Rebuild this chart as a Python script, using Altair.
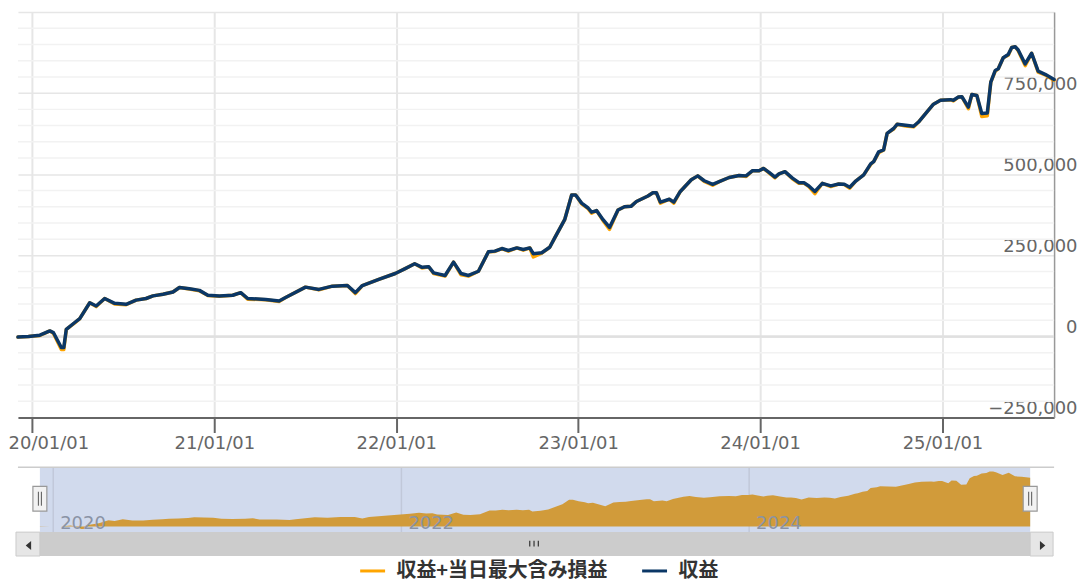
import altair as alt
import pandas as pd

S_WORST = "収益+当日最大含み損益"
S_PROFIT = "収益"
FONT = "DejaVu Sans"

dates = [
    "2019-12-04", "2019-12-25", "2020-01-17", "2020-02-06", "2020-02-13", "2020-02-29",
    "2020-03-05", "2020-03-10", "2020-03-27", "2020-04-06", "2020-04-26", "2020-05-09",
    "2020-05-26", "2020-06-15", "2020-07-08", "2020-07-28", "2020-08-17", "2020-08-31",
    "2020-09-20", "2020-10-10", "2020-10-23", "2020-11-12", "2020-12-02", "2020-12-19",
    "2021-01-11", "2021-02-07", "2021-02-23", "2021-03-09", "2021-04-14", "2021-05-11",
    "2021-05-24", "2021-07-03", "2021-07-30", "2021-08-26", "2021-09-25", "2021-10-11",
    "2021-10-25", "2021-11-27", "2021-12-30", "2022-01-19", "2022-02-07", "2022-02-22",
    "2022-03-07", "2022-03-17", "2022-04-09", "2022-04-26", "2022-05-11", "2022-05-26",
    "2022-06-15", "2022-07-05", "2022-07-18", "2022-08-01", "2022-08-14", "2022-08-31",
    "2022-09-13", "2022-09-26", "2022-10-03", "2022-10-20", "2022-11-05", "2022-11-15",
    "2022-12-05", "2022-12-19", "2022-12-27", "2023-01-08", "2023-01-21", "2023-01-28",
    "2023-02-07", "2023-02-20", "2023-03-05", "2023-03-22", "2023-04-04", "2023-04-17",
    "2023-04-28", "2023-05-21", "2023-05-31", "2023-06-07", "2023-06-15", "2023-07-03",
    "2023-07-12", "2023-07-25", "2023-08-16", "2023-08-29", "2023-09-11", "2023-09-28",
    "2023-10-11", "2023-10-31", "2023-11-20", "2023-12-04", "2023-12-17", "2023-12-30",
    "2024-01-08", "2024-01-19", "2024-01-31", "2024-02-08", "2024-02-20", "2024-03-06",
    "2024-03-19", "2024-03-29", "2024-04-08", "2024-04-20", "2024-05-05", "2024-05-22",
    "2024-06-07", "2024-06-18", "2024-06-29", "2024-07-11", "2024-07-27", "2024-08-10",
    "2024-08-16", "2024-08-26", "2024-09-05", "2024-09-12", "2024-09-25", "2024-10-02",
    "2024-10-19", "2024-11-04", "2024-11-14", "2024-12-01", "2024-12-14", "2024-12-28",
    "2025-01-17", "2025-01-23", "2025-02-02", "2025-02-09", "2025-02-22", "2025-03-01",
    "2025-03-11", "2025-03-21", "2025-04-01", "2025-04-08", "2025-04-17", "2025-04-23",
    "2025-05-03", "2025-05-13", "2025-05-20", "2025-05-27", "2025-06-02", "2025-06-16",
    "2025-06-29", "2025-07-12", "2025-07-26", "2025-08-13",
]

profit = [
    -2000, 0, 4000, 17000, 12000, -34000,
    -34000, 22000, 43000, 55000, 104000, 94000,
    117000, 102000, 99000, 112000, 117000, 125000,
    130000, 137000, 151000, 147000, 142000, 127000,
    125000, 127000, 135000, 117000, 114000, 109000,
    120000, 152000, 145000, 155000, 157000, 135000,
    157000, 176000, 194000, 209000, 224000, 213000,
    215000, 196000, 188000, 229000, 194000, 188000,
    201000, 261000, 263000, 271000, 265000, 273000,
    268000, 273000, 255000, 258000, 275000, 304000,
    360000, 436000, 436000, 411000, 396000, 383000,
    388000, 360000, 336000, 390000, 400000, 401000,
    416000, 433000, 443000, 443000, 414000, 423000,
    414000, 447000, 483000, 495000, 480000, 469000,
    477000, 490000, 496000, 495000, 511000, 511000,
    518000, 506000, 491000, 501000, 508000, 488000,
    474000, 474000, 464000, 447000, 472000, 464000,
    470000, 469000, 460000, 479000, 498000, 532000,
    539000, 569000, 575000, 626000, 641000, 654000,
    651000, 648000, 661000, 692000, 716000, 728000,
    730000, 728000, 738000, 739000, 707000, 746000,
    743000, 687000, 689000, 784000, 820000, 825000,
    859000, 869000, 891000, 893000, 883000, 840000,
    873000, 818000, 808000, 792000,
]

worst = [
    -2000, 0, 3000, 17000, 10000, -40000,
    -40000, 22000, 42000, 55000, 104000, 92000,
    117000, 100000, 98000, 112000, 117000, 125000,
    130000, 137000, 151000, 146000, 141000, 126000,
    124000, 127000, 135000, 115000, 113000, 108000,
    120000, 152000, 144000, 155000, 157000, 132000,
    157000, 176000, 194000, 209000, 224000, 211000,
    215000, 194000, 186000, 229000, 190000, 186000,
    201000, 261000, 262000, 271000, 263000, 273000,
    266000, 273000, 245000, 257000, 275000, 304000,
    360000, 436000, 436000, 409000, 394000, 380000,
    388000, 357000, 330000, 390000, 400000, 401000,
    416000, 433000, 443000, 443000, 411000, 423000,
    411000, 447000, 483000, 495000, 478000, 466000,
    477000, 490000, 496000, 493000, 511000, 511000,
    518000, 504000, 489000, 501000, 508000, 486000,
    472000, 473000, 462000, 440000, 472000, 462000,
    470000, 468000, 457000, 479000, 498000, 530000,
    539000, 566000, 575000, 626000, 639000, 654000,
    649000, 646000, 661000, 692000, 716000, 728000,
    730000, 726000, 738000, 739000, 702000, 746000,
    743000, 678000, 680000, 784000, 818000, 825000,
    859000, 867000, 891000, 893000, 881000, 835000,
    873000, 815000, 806000, 790000,
]

tick_years = [2020, 2021, 2022, 2023, 2024, 2025]
nav_years = ["2020-01-01", "2022-01-01", "2024-01-01"]
nav_year_labels = ["2020", "2022", "2024"]
y_major = [-250000, 0, 250000, 500000, 750000, 1000000]
y_minor = [-200000, -150000, -100000, -50000, 50000, 100000, 150000, 200000,
           300000, 350000, 400000, 450000, 550000, 600000, 650000, 700000,
           800000, 850000, 900000, 950000]

wide = pd.DataFrame({"date": dates, S_PROFIT: profit, S_WORST: worst})
long = wide.melt("date", var_name="series", value_name="value")
one = pd.DataFrame({"k": [0]})

x_dom = [alt.DateTime(year=2019, month=12, date=4, utc=True),
         alt.DateTime(year=2025, month=8, date=13, utc=True)]

# ---------------- main chart ----------------
xs_main = alt.Scale(type="utc", domain=x_dom)
ys_main = alt.Scale(domain=[-250000, 1000000], nice=False, zero=False)

xaxis = alt.Axis(
    values=[alt.DateTime(year=y, month=1, date=1, utc=True) for y in tick_years],
    format="%y/%m/%d", title=None, labelFont=FONT, labelFontSize=18, labelColor="#666666",
    tickSize=15, tickColor="#666666", tickWidth=2, domainColor="#666666", domainWidth=2,
    labelBaseline="alphabetic", labelPadding=16, labelOverlap=False, labelFlush=False,
    labelOffset={"condition": {"test": "utcyear(datum.value) == 2020", "value": 16.5}, "value": 0},
    grid=True, gridColor="#e6e6e6", gridWidth=2,
)
yaxis = alt.Axis(
    orient="right", values=y_major, format=",d", title=None,
    labelExpr="datum.value >= 1000000 ? '' : datum.label",
    labelFont=FONT, labelFontSize=18, labelColor="#666666", labelAlign="right",
    labelBaseline="alphabetic", labelOffset=-4, labelPadding=23, ticks=False,
    domainColor="#999999", domainWidth=1.5, grid=True, gridColor="#e6e6e6", gridWidth=1.5,
)

cscale = alt.Scale(domain=[S_WORST, S_PROFIT], range=["#FFA500", "#0b3766"])
leg = alt.Legend(
    orient="none", legendX=342, legendY=547, direction="horizontal", title=None,
    symbolType="stroke", symbolSize=625, symbolStrokeWidth=3,
    labelFont="Noto Sans CJK JP", labelFontSize=20, labelFontWeight="bold",
    labelColor="#333333", labelOffset=10, columnPadding=28, padding=0, labelLimit=400,
)

minor = alt.Chart(pd.DataFrame({"v": y_minor})).mark_rule(
    color="#f2f2f2", strokeWidth=1.5
).encode(y=alt.Y("v:Q", scale=ys_main, axis=yaxis))

zero = alt.Chart(pd.DataFrame({"v": [0]})).mark_rule(
    color="#e0e0e0", strokeWidth=2.5
).encode(y=alt.Y("v:Q", scale=ys_main, axis=yaxis))


def series_line(name):
    return alt.Chart(long).transform_filter(alt.datum.series == name).mark_line(
        strokeWidth=3.5, strokeJoin="round", strokeCap="round"
    ).encode(
        x=alt.X("date:T", scale=xs_main, axis=xaxis),
        y=alt.Y("value:Q", scale=ys_main, axis=yaxis),
        color=alt.Color("series:N", scale=cscale, legend=leg),
    )


main = alt.layer(minor, zero, series_line(S_WORST), series_line(S_PROFIT)).properties(
    width=1040, height=407
)

# ---------------- navigator + scrollbar ----------------
xs_nav = alt.Scale(type="utc", domain=x_dom, range=[22, 1016])
ys_nav = alt.Scale(domain=[-90000, 960000], range=[65, 0], nice=False, zero=False)

ends = pd.DataFrame({"s": [dates[0]], "e": [dates[-1]]})
end_pts = pd.DataFrame({"d": [dates[0], dates[-1]]})
nav_lab = pd.DataFrame({"d": nav_years, "t": nav_year_labels})

nav_bg = alt.Chart(ends).mark_rect(color="#d1daed").encode(
    x=alt.X("s:T", scale=xs_nav, axis=None), x2="e:T", y=alt.value(0), y2=alt.value(65)
)
nav_grid = alt.Chart(nav_lab).mark_rule(color="#c1c8d9", strokeWidth=1.5).encode(
    x=alt.X("d:T", scale=xs_nav, axis=None), y=alt.value(0), y2=alt.value(65)
)
nav_area = alt.Chart(wide).mark_area(color="#d19b3a", opacity=1).encode(
    x=alt.X("date:T", scale=xs_nav, axis=None),
    y=alt.Y(f"{S_WORST}:Q", scale=ys_nav, axis=None),
    y2=alt.value(65),
)
nav_text = alt.Chart(nav_lab).mark_text(
    align="left", baseline="alphabetic", dx=7, font=FONT, fontSize=18, color="#8a93a5"
).encode(x=alt.X("d:T", scale=xs_nav, axis=None), y=alt.value(62), text="t:N")
nav_outline = alt.Chart(one).mark_rule(color="#cccccc", strokeWidth=1.5).encode(
    x=alt.value(0), x2=alt.value(1040), y=alt.value(0)
)
track = alt.Chart(one).mark_rect(fill="#cccccc").encode(
    x=alt.value(-2), x2=alt.value(1039), y=alt.value(65), y2=alt.value(89)
)
btn_l = alt.Chart(one).mark_rect(fill="#e6e6e6", stroke="#cccccc", strokeWidth=1).encode(
    x=alt.value(-2), x2=alt.value(22), y=alt.value(65), y2=alt.value(89)
)
btn_r = alt.Chart(one).mark_rect(fill="#e6e6e6", stroke="#cccccc", strokeWidth=1).encode(
    x=alt.value(1016), x2=alt.value(1039), y=alt.value(65), y2=alt.value(89)
)
arr_l = alt.Chart(one).mark_point(
    shape="M0.6,-1L-0.6,0L0.6,1Z", size=81, filled=True, fill="#333333", opacity=1, strokeWidth=0
).encode(x=alt.value(10.5), y=alt.value(78.5))
arr_r = alt.Chart(one).mark_point(
    shape="M-0.6,-1L0.6,0L-0.6,1Z", size=81, filled=True, fill="#333333", opacity=1, strokeWidth=0
).encode(x=alt.value(1028.5), y=alt.value(78.5))
grip = alt.Chart(one).mark_point(
    shape="M-1,-0.66V0.66M0,-0.66V0.66M1,-0.66V0.66", size=74, filled=False,
    stroke="#333333", strokeWidth=1.2, opacity=1
).encode(x=alt.value(518), y=alt.value(76.5))
handles = alt.Chart(end_pts).mark_point(
    shape="M-0.56,-1H0.56V1H-0.56Z", size=625, filled=True, fill="#f2f2f2",
    stroke="#999999", strokeWidth=1.2, opacity=1
).encode(x=alt.X("d:T", scale=xs_nav, axis=None), y=alt.value(31.5))
handle_lines = alt.Chart(end_pts).mark_point(
    shape="M-0.12,-0.56V0.56M0.12,-0.56V0.56", size=625, filled=False,
    stroke="#555555", strokeWidth=1, opacity=1
).encode(x=alt.X("d:T", scale=xs_nav, axis=None), y=alt.value(31.5))

bottom = alt.layer(
    nav_bg, nav_grid, nav_area, nav_text, nav_outline, track, btn_l, btn_r,
    arr_l, arr_r, grip, handles, handle_lines
).properties(width=1040, height=89)

chart = alt.vconcat(main, bottom, spacing=50, bounds="flush").properties(
    padding={"left": 0, "top": 3, "right": 0, "bottom": 0}, background="white"
).configure_view(stroke=None)

chart.save("out.html", embed_options={"renderer": "svg", "actions": False})
